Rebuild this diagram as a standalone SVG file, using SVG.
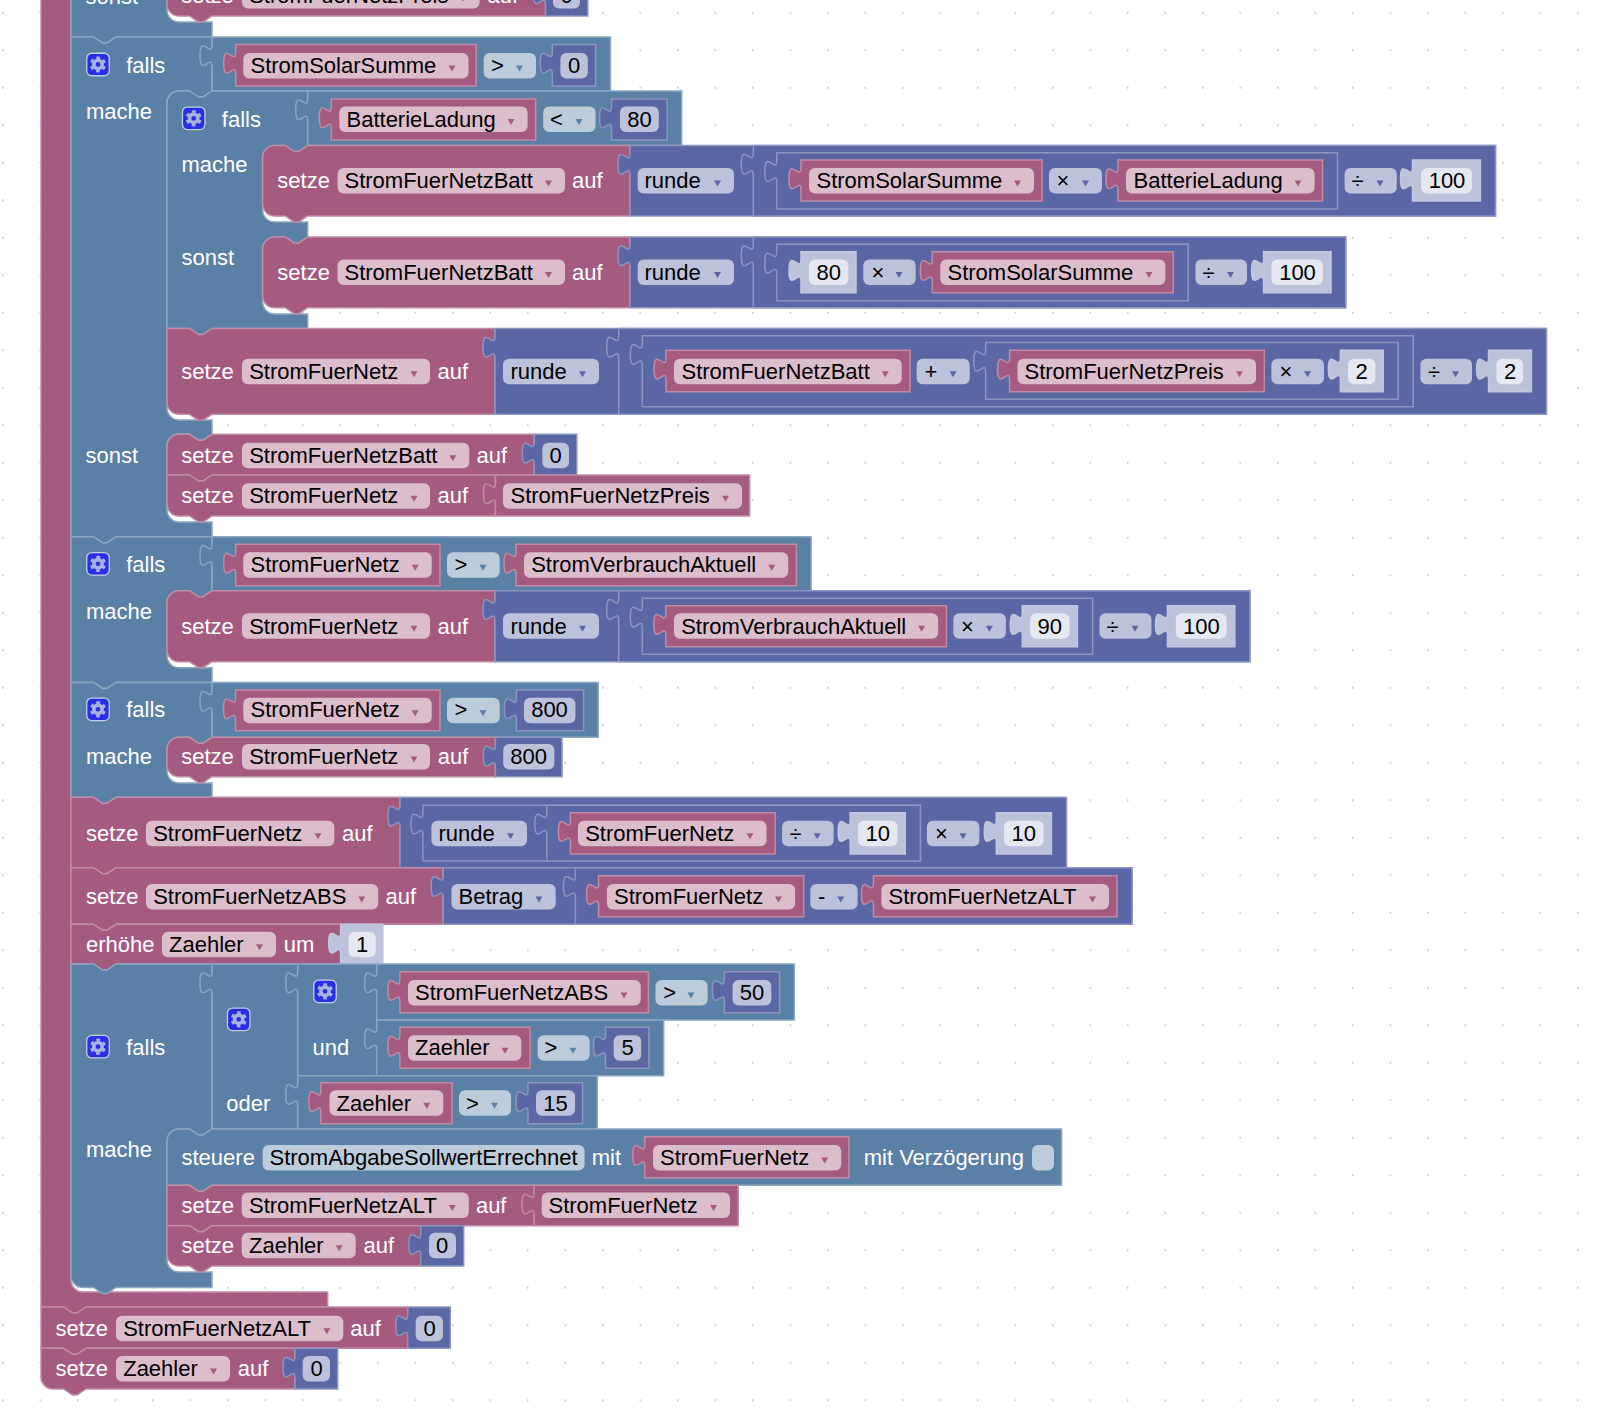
<svg xmlns="http://www.w3.org/2000/svg" width="1612" height="1420" viewBox="0 0 1612 1420">
<style>
text{font:22px "Liberation Sans",Arial,sans-serif;fill:#000;transform:translateX(-.5px)}
.w{fill:#fff}.c{text-anchor:middle;transform:none}
path{stroke-width:1.5;stroke-linejoin:miter}
.p{fill:#A55B80;stroke:#C08CA6}.l{fill:#5B80A5;stroke:#8CA6C0}.m{fill:#5B67A5;stroke:#8C95C0}.s{fill:#BDC2DB;stroke:#C4C8DF}
rect.f{height:25.5px;rx:6px;ry:6px}
.fp{fill:#DBBDCC}.fl{fill:#BDCCDB}.fm{fill:#BDC2DB}.fs{fill:#E5E7F1}
.ap{fill:#A55B80}.al{fill:#5B80A5}.am{fill:#5B67A5}
</style>
<defs>
<pattern id="grid" width="37.5" height="37.5" patternUnits="userSpaceOnUse"><rect x="2" y="12" width="1.5" height="1.5" fill="#bbb"/></pattern>
<path id="a" d="M-3.5,.5H3.5L0,6.5z" style="stroke:none"/>
<g id="gear"><rect x=".75" y=".75" width="22.5" height="22.5" rx="5" fill="#2A2FE6" stroke="#C3CFE2" stroke-width="1.3"/><circle cx="12" cy="12" r="4.2" fill="none" stroke="#A8B4E0" stroke-width="3.6"/><circle cx="12" cy="12" r="6.8" fill="none" stroke="#A8B4E0" stroke-width="2.6" stroke-dasharray="3.6 3.52" transform="rotate(15 12 12)"/></g>
</defs>
<rect width="1612" height="1420" fill="#fff"/>
<rect width="1612" height="1420" fill="url(#grid)"/>

<g id="loop"><path class="p" d="M41-40H71V1280a12,12 0 0 0 12,12H327.7V1307H86l-9,6-4.5,0-9-6H41z"/></g>

<g id="falls0">
<path class="l" d="M71-40H167V10a12,12 0 0 0 12,12H212V37H116l-9,6-4.5,0-9-6H71z"/>
<text class="w" x="86" y="3.5">sonst</text>
</g>
<g id="setze0">
<path class="p" d="M167-40H545.5V16H212l-9,6-4.5,0-9-6H179a12,12 0 0 1-12-12z"/>
<text class="w" x="181.7" y="3">setze</text>
<rect class="f fp" x="242" y="-17" width="237.6"/><text x="249.7" y="3">StromFuerNetzPreis</text><use href="#a" class="ap" x="463" y="-5"/>
<text class="w" x="488" y="3">auf</text>
<path class="m" d="M545.5-25H587.8V16H545.5V5c0-15-12,12-12-11.25s12,3.75 12-11.25z"/>
<rect class="f fm" x="553" y="-17" width="27"/><text class="c" x="566.5" y="3">0</text>
</g>

<g id="falls1">
<path class="l" d="M71,37H93.5l9,6 4.5,0 9-6H212V91l-9,6-4.5,0-9-6H179a12,12 0 0 0-12,12V408a12,12 0 0 0 12,12H212V434l-9,6-4.5,0-9-6H179a12,12 0 0 0-12,12V510a12,12 0 0 0 12,12H212V536.7H116l-9,6-4.5,0-9-6H71z"/>
<use href="#gear" x="86" y="52.5"/>
<text class="w" x="126.7" y="73">falls</text><text class="w" x="86.4" y="119">mache</text><text class="w" x="86" y="462.7">sonst</text>
</g>
<g id="cmp1">
<path class="l" d="M212,37H610.5V91H212V67c0-15-12,12-12-11.25s12,3.75 12-11.25z"/>
<path class="p" d="M235.7,44.5H476.2V86H235.7V74.5c0-15-12,12-12-11.25s12,3.75 12-11.25z"/>
<rect class="f fp" x="243.3" y="53" width="225.2"/><text x="251" y="73">StromSolarSumme</text><use href="#a" class="ap" x="452" y="65"/>
<rect class="f fl" x="483.7" y="53" width="52.3"/><text x="491.5" y="73">&gt;</text><use href="#a" class="al" x="519.5" y="65"/>
<path class="m" d="M552.3,44.5H595.6V86H552.3V74.5c0-15-12,12-12-11.25s12,3.75 12-11.25z"/>
<rect class="f fm" x="560.4" y="53" width="27.4"/><text class="c" x="574" y="73">0</text>
</g>

<g id="falls2">
<path class="l" d="M167,103a12,12 0 0 1 12-12H189.5l9,6 4.5,0 9-6H307.7V145.5l-9,6-4.5,0-9-6H274.6a12,12 0 0 0-12,12V210a12,12 0 0 0 12,12H307.7V237l-9,6-4.5,0-9-6H274.6a12,12 0 0 0-12,12V302a12,12 0 0 0 12,12H307.7V328.5H212l-9,6-4.5,0-9-6H167z"/>
<use href="#gear" x="181.7" y="106.3"/>
<text class="w" x="222.3" y="126.5">falls</text><text class="w" x="182" y="171.7">mache</text><text class="w" x="182" y="264.5">sonst</text>
</g>
<g id="cmp2">
<path class="l" d="M307.7,91H681.7V145.5H307.7V121c0-15-12,12-12-11.25s12,3.75 12-11.25z"/>
<path class="p" d="M331.3,99H535.7V140H331.3V129c0-15-12,12-12-11.25s12,3.75 12-11.25z"/>
<rect class="f fp" x="339.3" y="106.5" width="188.3"/><text x="347" y="126.5">BatterieLadung</text><use href="#a" class="ap" x="511" y="118.5"/>
<rect class="f fl" x="543.2" y="106.5" width="52.4"/><text x="550.6" y="126.5">&lt;</text><use href="#a" class="al" x="579" y="118.5"/>
<path class="m" d="M611.5,99H667.2V140H611.5V129c0-15-12,12-12-11.25s12,3.75 12-11.25z"/>
<rect class="f fm" x="620" y="106.5" width="38.8"/><text class="c" x="639.5" y="126.5">80</text>
</g>

<g id="setze1">
<path class="p" d="M262.6,157.5a12,12 0 0 1 12-12H285.2l9,6 4.5,0 9-6H630V216H307.7l-9,6-4.5,0-9-6H274.6a12,12 0 0 1-12-12z"/>
<text class="w" x="277.8" y="188">setze</text>
<rect class="f fp" x="337.6" y="168" width="227.4"/><text x="345" y="188">StromFuerNetzBatt</text><use href="#a" class="ap" x="548.5" y="180"/>
<text class="w" x="572.6" y="188">auf</text>
<path class="m" d="M630,145.5H1495.5V216H630V175.5c0-15-12,12-12-11.25s12,3.75 12-11.25z"/>
<rect class="f fm" x="637.7" y="168" width="96.3"/><text x="645" y="188">runde</text><use href="#a" class="am" x="717.5" y="180"/>
<path class="m" d="M753.3,145.5H1495.5V216H753.3V175.5c0-15-12,12-12-11.25s12,3.75 12-11.25z"/>
<path class="m" d="M776.7,152.7H1337.5V209H776.7V182.7c0-15-12,12-12-11.25s12,3.75 12-11.25z"/>
<path class="p" d="M801,160H1042V201H801V190c0-15-12,12-12-11.25s12,3.75 12-11.25z"/>
<rect class="f fp" x="809" y="168" width="225"/><text x="817" y="188">StromSolarSumme</text><use href="#a" class="ap" x="1017.5" y="180"/>
<rect class="f fm" x="1049" y="168" width="53"/><text x="1057" y="188">×</text><use href="#a" class="am" x="1085.5" y="180"/>
<path class="p" d="M1118,160H1322.5V201H1118V190c0-15-12,12-12-11.25s12,3.75 12-11.25z"/>
<rect class="f fp" x="1126" y="168" width="188.6"/><text x="1134" y="188">BatterieLadung</text><use href="#a" class="ap" x="1298" y="180"/>
<rect class="f fm" x="1344.6" y="168" width="52.2"/><text x="1352" y="188">÷</text><use href="#a" class="am" x="1380" y="180"/>
<path class="s" d="M1412.5,160H1480.4V201H1412.5V190c0-15-12,12-12-11.25s12,3.75 12-11.25z"/>
<rect class="f fs" x="1421" y="168" width="51"/><text class="c" x="1447" y="188">100</text>
</g>

<g id="setze2">
<path class="p" d="M262.6,249a12,12 0 0 1 12-12H285.2l9,6 4.5,0 9-6H630V307.7H307.7l-9,6-4.5,0-9-6H274.6a12,12 0 0 1-12-12z"/>
<text class="w" x="277.8" y="279.5">setze</text>
<rect class="f fp" x="337.6" y="259.5" width="227.4"/><text x="345" y="279.5">StromFuerNetzBatt</text><use href="#a" class="ap" x="548.5" y="271.5"/>
<text class="w" x="572.6" y="279.5">auf</text>
<path class="m" d="M630,237H1345.7V307.7H630V267c0-15-12,12-12-11.25s12,3.75 12-11.25z"/>
<rect class="f fm" x="637.7" y="259.5" width="96.3"/><text x="645" y="279.5">runde</text><use href="#a" class="am" x="717.5" y="271.5"/>
<path class="m" d="M753.3,237H1345.7V307.7H753.3V267c0-15-12,12-12-11.25s12,3.75 12-11.25z"/>
<path class="m" d="M776.7,244.3H1188.2V300.7H776.7V274.3c0-15-12,12-12-11.25s12,3.75 12-11.25z"/>
<path class="s" d="M801,251.7H856V292.7H801V281.7c0-15-12,12-12-11.25s12,3.75 12-11.25z"/>
<rect class="f fs" x="809" y="259.5" width="39.3"/><text class="c" x="828.7" y="279.5">80</text>
<rect class="f fm" x="863.3" y="259.5" width="52.4"/><text x="872" y="279.5">×</text><use href="#a" class="am" x="899" y="271.5"/>
<path class="p" d="M932.3,251.7H1173.2V292.7H932.3V281.7c0-15-12,12-12-11.25s12,3.75 12-11.25z"/>
<rect class="f fp" x="940.3" y="259.5" width="225.1"/><text x="948" y="279.5">StromSolarSumme</text><use href="#a" class="ap" x="1149" y="271.5"/>
<rect class="f fm" x="1195.4" y="259.5" width="51.6"/><text x="1203" y="279.5">÷</text><use href="#a" class="am" x="1230.5" y="271.5"/>
<path class="s" d="M1263.6,251.7H1331V292.7H1263.6V281.7c0-15-12,12-12-11.25s12,3.75 12-11.25z"/>
<rect class="f fs" x="1271.4" y="259.5" width="51.5"/><text class="c" x="1297.5" y="279.5">100</text>
</g>

<g id="setze3">
<path class="p" d="M167,328.5H189.5l9,6 4.5,0 9-6H495V414.3H212l-9,6-4.5,0-9-6H179a12,12 0 0 1-12-12z"/>
<text class="w" x="181.7" y="378.5">setze</text>
<rect class="f fp" x="242" y="358.7" width="188"/><text x="249.7" y="378.5">StromFuerNetz</text><use href="#a" class="ap" x="414" y="370.7"/>
<text class="w" x="438" y="378.5">auf</text>
<path class="m" d="M495,328.5H1546.4V414.3H495V358.5c0-15-12,12-12-11.25s12,3.75 12-11.25z"/>
<rect class="f fm" x="503" y="358.7" width="96"/><text x="511" y="378.5">runde</text><use href="#a" class="am" x="582.5" y="370.7"/>
<path class="m" d="M618.7,328.5H1546.4V414.3H618.7V358.5c0-15-12,12-12-11.25s12,3.75 12-11.25z"/>
<path class="m" d="M642.3,335.7H1413.2V406.7H642.3V365.7c0-15-12,12-12-11.25s12,3.75 12-11.25z"/>
<path class="p" d="M666,350.3H910V391.7H666V380.3c0-15-12,12-12-11.25s12,3.75 12-11.25z"/>
<rect class="f fp" x="674" y="358.7" width="227.7"/><text x="682" y="378.5">StromFuerNetzBatt</text><use href="#a" class="ap" x="885.2" y="370.7"/>
<rect class="f fm" x="916.7" y="358.7" width="53"/><text x="925" y="378.5">+</text><use href="#a" class="am" x="953" y="370.7"/>
<path class="m" d="M985.7,342.5H1398.2V399.3H985.7V372.5c0-15-12,12-12-11.25s12,3.75 12-11.25z"/>
<path class="p" d="M1009.6,350.3H1264.3V391.7H1009.6V380.3c0-15-12,12-12-11.25s12,3.75 12-11.25z"/>
<rect class="f fp" x="1017.5" y="358.7" width="238.5"/><text x="1025" y="378.5">StromFuerNetzPreis</text><use href="#a" class="ap" x="1239.5" y="370.7"/>
<rect class="f fm" x="1271.4" y="358.7" width="52.6"/><text x="1280" y="378.5">×</text><use href="#a" class="am" x="1307.5" y="370.7"/>
<path class="s" d="M1340.4,350.3H1383.2V391.7H1340.4V380.3c0-15-12,12-12-11.25s12,3.75 12-11.25z"/>
<rect class="f fs" x="1348" y="358.7" width="27.4"/><text class="c" x="1361.7" y="378.5">2</text>
<rect class="f fm" x="1420.4" y="358.7" width="51.6"/><text x="1428.6" y="378.5">÷</text><use href="#a" class="am" x="1455.5" y="370.7"/>
<path class="s" d="M1488.6,350.3H1531.4V391.7H1488.6V380.3c0-15-12,12-12-11.25s12,3.75 12-11.25z"/>
<rect class="f fs" x="1496.4" y="358.7" width="26.8"/><text class="c" x="1510" y="378.5">2</text>
</g>

<g id="setze4">
<path class="p" d="M167,446.3a12,12 0 0 1 12-12H189.5l9,6 4.5,0 9-6H534.3V475H212l-9,6-4.5,0-9-6H167z"/>
<text class="w" x="181.7" y="462.7">setze</text>
<rect class="f fp" x="242" y="442.7" width="227.3"/><text x="249.7" y="462.7">StromFuerNetzBatt</text><use href="#a" class="ap" x="452.8" y="454.7"/>
<text class="w" x="477" y="462.7">auf</text>
<path class="m" d="M534.3,434.3H576.8V475H534.3V464.3c0-15-12,12-12-11.25s12,3.75 12-11.25z"/>
<rect class="f fm" x="542.3" y="442.7" width="26.7"/><text class="c" x="555.7" y="462.7">0</text>
</g>
<g id="setze5">
<path class="p" d="M167,475H189.5l9,6 4.5,0 9-6H495.5V516H212l-9,6-4.5,0-9-6H179a12,12 0 0 1-12-12z"/>
<text class="w" x="181.7" y="503.3">setze</text>
<rect class="f fp" x="242" y="483.3" width="188"/><text x="249.7" y="503.3">StromFuerNetz</text><use href="#a" class="ap" x="414" y="495.3"/>
<text class="w" x="438" y="503.3">auf</text>
<path class="p" d="M495.5,475H749.6V516H495.5V505c0-15-12,12-12-11.25s12,3.75 12-11.25z"/>
<rect class="f fp" x="503" y="483.3" width="239"/><text x="511" y="503.3">StromFuerNetzPreis</text><use href="#a" class="ap" x="725.5" y="495.3"/>
</g>

<g id="falls3">
<path class="l" d="M71,536.7H93.5l9,6 4.5,0 9-6H212V590.7l-9,6-4.5,0-9-6H179a12,12 0 0 0-12,12V655.7a12,12 0 0 0 12,12H212V682.5H116l-9,6-4.5,0-9-6H71z"/>
<use href="#gear" x="86" y="551.8"/>
<text class="w" x="126.7" y="572.3">falls</text><text class="w" x="86.4" y="618.7">mache</text>
</g>
<g id="cmp3">
<path class="l" d="M212,536.7H811.1V590.7H212V566.7c0-15-12,12-12-11.25s12,3.75 12-11.25z"/>
<path class="p" d="M235.7,544.3H440V585.7H235.7V574.3c0-15-12,12-12-11.25s12,3.75 12-11.25z"/>
<rect class="f fp" x="243.3" y="552.3" width="188.4"/><text x="251" y="572.3">StromFuerNetz</text><use href="#a" class="ap" x="415.2" y="564.3"/>
<rect class="f fl" x="447" y="552.3" width="52.7"/><text x="455" y="572.3">&gt;</text><use href="#a" class="al" x="483" y="564.3"/>
<path class="p" d="M516,544.3H796.4V585.7H516V574.3c0-15-12,12-12-11.25s12,3.75 12-11.25z"/>
<rect class="f fp" x="524" y="552.3" width="264.2"/><text x="531.7" y="572.3">StromVerbrauchAktuell</text><use href="#a" class="ap" x="771.7" y="564.3"/>
</g>
<g id="setze6">
<path class="p" d="M167,602.7a12,12 0 0 1 12-12H189.5l9,6 4.5,0 9-6H495V661.7H212l-9,6-4.5,0-9-6H179a12,12 0 0 1-12-12z"/>
<text class="w" x="181.7" y="633.5">setze</text>
<rect class="f fp" x="242" y="613.3" width="188"/><text x="249.7" y="633.5">StromFuerNetz</text><use href="#a" class="ap" x="414" y="625.3"/>
<text class="w" x="438" y="633.5">auf</text>
<path class="m" d="M495,590.7H1249.9V661.7H495V620.7c0-15-12,12-12-11.25s12,3.75 12-11.25z"/>
<rect class="f fm" x="503" y="613.3" width="96"/><text x="511" y="633.5">runde</text><use href="#a" class="am" x="582.5" y="625.3"/>
<path class="m" d="M618.7,590.7H1249.9V661.7H618.7V620.7c0-15-12,12-12-11.25s12,3.75 12-11.25z"/>
<path class="m" d="M642.3,598.3H1092.7V654.3H642.3V628.3c0-15-12,12-12-11.25s12,3.75 12-11.25z"/>
<path class="p" d="M665.8,605.7H946.4V646.7H665.8V635.7c0-15-12,12-12-11.25s12,3.75 12-11.25z"/>
<rect class="f fp" x="674" y="613.3" width="264.1"/><text x="681.7" y="633.5">StromVerbrauchAktuell</text><use href="#a" class="ap" x="921.6" y="625.3"/>
<rect class="f fm" x="953.3" y="613.3" width="52.6"/><text x="961.6" y="633.5">×</text><use href="#a" class="am" x="989.4" y="625.3"/>
<path class="s" d="M1022.3,605.7H1077.4V646.7H1022.3V635.7c0-15-12,12-12-11.25s12,3.75 12-11.25z"/>
<rect class="f fs" x="1030.1" y="613.3" width="39.5"/><text class="c" x="1049.8" y="633.5">90</text>
<rect class="f fm" x="1099.5" y="613.3" width="52"/><text x="1107" y="633.5">÷</text><use href="#a" class="am" x="1135" y="625.3"/>
<path class="s" d="M1167.5,605.7H1234.8V646.7H1167.5V635.7c0-15-12,12-12-11.25s12,3.75 12-11.25z"/>
<rect class="f fs" x="1175.8" y="613.3" width="50.8"/><text class="c" x="1201.4" y="633.5">100</text>
</g>

<g id="falls4">
<path class="l" d="M71,682.5H93.5l9,6 4.5,0 9-6H212V737.3l-9,6-4.5,0-9-6H179a12,12 0 0 0-12,12V771a12,12 0 0 0 12,12H212V797.3H116l-9,6-4.5,0-9-6H71z"/>
<use href="#gear" x="86" y="697.3"/>
<text class="w" x="126.7" y="717.3">falls</text><text class="w" x="86.4" y="763.5">mache</text>
</g>
<g id="cmp4">
<path class="l" d="M212,682.5H598.2V737.3H212V712.5c0-15-12,12-12-11.25s12,3.75 12-11.25z"/>
<path class="p" d="M235.5,690H440V730.7H235.5V720c0-15-12,12-12-11.25s12,3.75 12-11.25z"/>
<rect class="f fp" x="243.3" y="697.7" width="188.4"/><text x="251" y="717.3">StromFuerNetz</text><use href="#a" class="ap" x="415.2" y="709.7"/>
<rect class="f fl" x="447" y="697.7" width="52.7"/><text x="455" y="717.3">&gt;</text><use href="#a" class="al" x="483" y="709.7"/>
<path class="m" d="M516.4,690H583.6V730.7H516.4V720c0-15-12,12-12-11.25s12,3.75 12-11.25z"/>
<rect class="f fm" x="524" y="697.7" width="51.4"/><text class="c" x="549.5" y="717.3">800</text>
</g>
<g id="setze7">
<path class="p" d="M167,749.3a12,12 0 0 1 12-12H189.5l9,6 4.5,0 9-6H495.4V776.7H212l-9,6-4.5,0-9-6H179a12,12 0 0 1-12-12z"/>
<text class="w" x="181.7" y="763.5">setze</text>
<rect class="f fp" x="242" y="744" width="188"/><text x="249.7" y="763.5">StromFuerNetz</text><use href="#a" class="ap" x="414" y="756"/>
<text class="w" x="438.2" y="763.5">auf</text>
<path class="m" d="M495.4,737.3H562V776.7H495.4V767.3c0-15-12,12-12-11.25s12,3.75 12-11.25z"/>
<rect class="f fm" x="503.2" y="744" width="51.1"/><text class="c" x="528.7" y="763.5">800</text>
</g>

<g id="setze8">
<path class="p" d="M71,797.3H93.5l9,6 4.5,0 9-6H400V867.7H116l-9,6-4.5,0-9-6H71z"/>
<text class="w" x="86.4" y="840.7">setze</text>
<rect class="f fp" x="146" y="820.7" width="188.3"/><text x="153.7" y="840.7">StromFuerNetz</text><use href="#a" class="ap" x="318" y="832.7"/>
<text class="w" x="342.5" y="840.7">auf</text>
<path class="m" d="M400,797.3H1066.5V867.7H400V827.3c0-15-12,12-12-11.25s12,3.75 12-11.25z"/>
<path class="m" d="M422.9,805.3H920.4V861H422.9V835.3c0-15-12,12-12-11.25s12,3.75 12-11.25z"/>
<rect class="f fm" x="431.4" y="820.7" width="95.6"/><text x="439" y="840.7">runde</text><use href="#a" class="am" x="510.5" y="832.7"/>
<path class="m" d="M546.8,805.3H920.4V861H546.8V835.3c0-15-12,12-12-11.25s12,3.75 12-11.25z"/>
<path class="p" d="M570.4,812.7H775.2V854H570.4V842.7c0-15-12,12-12-11.25s12,3.75 12-11.25z"/>
<rect class="f fp" x="578" y="820.7" width="188.5"/><text x="585.7" y="840.7">StromFuerNetz</text><use href="#a" class="ap" x="750" y="832.7"/>
<rect class="f fm" x="782.1" y="820.7" width="51.5"/><text x="789.9" y="840.7">÷</text><use href="#a" class="am" x="817.2" y="832.7"/>
<path class="s" d="M850.2,812.7H905.2V854H850.2V842.7c0-15-12,12-12-11.25s12,3.75 12-11.25z"/>
<rect class="f fs" x="858" y="820.7" width="39.5"/><text class="c" x="877.7" y="840.7">10</text>
<rect class="f fm" x="926.9" y="820.7" width="52.5"/><text x="935.6" y="840.7">×</text><use href="#a" class="am" x="963" y="832.7"/>
<path class="s" d="M996.3,812.7H1051.4V854H996.3V842.7c0-15-12,12-12-11.25s12,3.75 12-11.25z"/>
<rect class="f fs" x="1004.1" y="820.7" width="39.5"/><text class="c" x="1023.8" y="840.7">10</text>
</g>

<g id="setze9">
<path class="p" d="M71,867.7H93.5l9,6 4.5,0 9-6H443.2V924.3H116l-9,6-4.5,0-9-6H71z"/>
<text class="w" x="86.4" y="904">setze</text>
<rect class="f fp" x="146" y="884" width="232.2"/><text x="153.7" y="904">StromFuerNetzABS</text><use href="#a" class="ap" x="361.7" y="896"/>
<text class="w" x="386" y="904">auf</text>
<path class="m" d="M443.2,867.7H1132.1V924.3H443.2V897.7c0-15-12,12-12-11.25s12,3.75 12-11.25z"/>
<rect class="f fm" x="451.4" y="884" width="104.3"/><text x="459" y="904">Betrag</text><use href="#a" class="am" x="539" y="896"/>
<path class="m" d="M575.4,867.7H1132.1V924.3H575.4V897.7c0-15-12,12-12-11.25s12,3.75 12-11.25z"/>
<path class="p" d="M598.6,875.7H803.7V916.7H598.6V905.7c0-15-12,12-12-11.25s12,3.75 12-11.25z"/>
<rect class="f fp" x="606.9" y="884" width="188.2"/><text x="614.5" y="904">StromFuerNetz</text><use href="#a" class="ap" x="778.5" y="896"/>
<rect class="f fm" x="810.3" y="884" width="47.3"/><text x="818.4" y="904">-</text><use href="#a" class="am" x="840.8" y="896"/>
<path class="p" d="M873.5,875.7H1116.9V916.7H873.5V905.7c0-15-12,12-12-11.25s12,3.75 12-11.25z"/>
<rect class="f fp" x="881.4" y="884" width="227.6"/><text x="889" y="904">StromFuerNetzALT</text><use href="#a" class="ap" x="1092.5" y="896"/>
</g>

<g id="erhoehe">
<path class="p" d="M71,924.3H93.5l9,6 4.5,0 9-6H340.7V964H116l-9,6-4.5,0-9-6H71z"/>
<text class="w" x="86.4" y="951.7">erhöhe</text>
<rect class="f fp" x="162" y="931.7" width="114"/><text x="169.5" y="951.7">Zaehler</text><use href="#a" class="ap" x="259.5" y="943.7"/>
<text class="w" x="284.3" y="951.7">um</text>
<path class="s" d="M340.7,924.3H382.9V964H340.7V954.3c0-15-12,12-12-11.25s12,3.75 12-11.25z"/>
<rect class="f fs" x="348.6" y="931.7" width="27.1"/><text class="c" x="362" y="951.7">1</text>
</g>

<g id="falls5">
<path class="l" d="M71,964H93.5l9,6 4.5,0 9-6H212V1129l-9,6-4.5,0-9-6H179a12,12 0 0 0-12,12V1260a12,12 0 0 0 12,12H212V1287.5H116l-9,6-4.5,0-9-6H83a12,12 0 0 1-12-12z"/>
<use href="#gear" x="86" y="1034.7"/>
<text class="w" x="126.7" y="1055">falls</text><text class="w" x="86.4" y="1156.7">mache</text>
</g>
<g id="oder">
<path class="l" d="M212,964H297.7V1129H212V994c0-15-12,12-12-11.25s12,3.75 12-11.25z"/>
<use href="#gear" x="226.7" y="1007.3"/>
<text class="w" x="226.7" y="1110.5">oder</text>
</g>
<g id="und">
<path class="l" d="M297.7,964H376.7V1075.7H297.7V994c0-15-12,12-12-11.25s12,3.75 12-11.25z"/>
<use href="#gear" x="313" y="979.3"/>
<text class="w" x="313" y="1055">und</text>
</g>
<g id="cmp5">
<path class="l" d="M376.7,964H794.3V1020H376.7V994c0-15-12,12-12-11.25s12,3.75 12-11.25z"/>
<path class="p" d="M399.9,971.7H648.4V1012.7H399.9V1001.7c0-15-12,12-12-11.25s12,3.75 12-11.25z"/>
<rect class="f fp" x="408" y="980" width="232.7"/><text x="415.5" y="1000">StromFuerNetzABS</text><use href="#a" class="ap" x="624" y="992"/>
<rect class="f fl" x="655.5" y="980" width="52.1"/><text x="663.7" y="1000">&gt;</text><use href="#a" class="al" x="691" y="992"/>
<path class="m" d="M724.4,971.7H779.5V1012.7H724.4V1001.7c0-15-12,12-12-11.25s12,3.75 12-11.25z"/>
<rect class="f fm" x="732.6" y="980" width="38.7"/><text class="c" x="752" y="1000">50</text>
</g>
<g id="cmp6">
<path class="l" d="M376.7,1020H663.7V1075.7H376.7V1050c0-15-12,12-12-11.25s12,3.75 12-11.25z"/>
<path class="p" d="M399.9,1027.3H530V1068.3H399.9V1057.3c0-15-12,12-12-11.25s12,3.75 12-11.25z"/>
<rect class="f fp" x="408" y="1035.3" width="113.3"/><text x="415.5" y="1055">Zaehler</text><use href="#a" class="ap" x="505" y="1047.3"/>
<rect class="f fl" x="537.7" y="1035.3" width="52"/><text x="545" y="1055">&gt;</text><use href="#a" class="al" x="573" y="1047.3"/>
<path class="m" d="M605.5,1027.3H648.9V1068.3H605.5V1057.3c0-15-12,12-12-11.25s12,3.75 12-11.25z"/>
<rect class="f fm" x="613.7" y="1035.3" width="27.5"/><text class="c" x="627.5" y="1055">5</text>
</g>
<g id="cmp7">
<path class="l" d="M297.7,1075.7H597.3V1129H297.7V1105.7c0-15-12,12-12-11.25s12,3.75 12-11.25z"/>
<path class="p" d="M320.8,1082.7H452V1123.7H320.8V1112.7c0-15-12,12-12-11.25s12,3.75 12-11.25z"/>
<rect class="f fp" x="329.5" y="1090.3" width="113.8"/><text x="337" y="1110.5">Zaehler</text><use href="#a" class="ap" x="426.8" y="1102.3"/>
<rect class="f fl" x="459" y="1090.3" width="52"/><text x="466.5" y="1110.5">&gt;</text><use href="#a" class="al" x="494.5" y="1102.3"/>
<path class="m" d="M528,1082.7H582.6V1123.7H528V1112.7c0-15-12,12-12-11.25s12,3.75 12-11.25z"/>
<rect class="f fm" x="536" y="1090.3" width="39"/><text class="c" x="555.5" y="1110.5">15</text>
</g>

<g id="steuere">
<path class="l" d="M167,1141a12,12 0 0 1 12-12H189.5l9,6 4.5,0 9-6H1061.6V1185.3H212l-9,6-4.5,0-9-6H167z"/>
<text class="w" x="182" y="1165">steuere</text>
<rect class="f fl" x="262.7" y="1145" width="321.9"/><text x="270" y="1165">StromAbgabeSollwertErrechnet</text>
<text class="w" x="592.2" y="1165">mit</text>
<path class="p" d="M644.8,1136.7H848.9V1177.7H644.8V1166.7c0-15-12,12-12-11.25s12,3.75 12-11.25z"/>
<rect class="f fp" x="653" y="1145" width="188.2"/><text x="660.5" y="1165">StromFuerNetz</text><use href="#a" class="ap" x="824.7" y="1157"/>
<text class="w" x="864.2" y="1165">mit Verzögerung</text>
<rect class="f fl" x="1032" y="1145" width="22"/>
</g>
<g id="setze10">
<path class="p" d="M167,1185.3H189.5l9,6 4.5,0 9-6H534V1225.7H212l-9,6-4.5,0-9-6H167z"/>
<text class="w" x="182" y="1212.5">setze</text>
<rect class="f fp" x="241.7" y="1192.5" width="227.1"/><text x="249.5" y="1212.5">StromFuerNetzALT</text><use href="#a" class="ap" x="452.3" y="1204.5"/>
<text class="w" x="476.4" y="1212.5">auf</text>
<path class="p" d="M534,1185.3H738.2V1225.7H534V1215.3c0-15-12,12-12-11.25s12,3.75 12-11.25z"/>
<rect class="f fp" x="541.7" y="1192.5" width="188.3"/><text x="549" y="1212.5">StromFuerNetz</text><use href="#a" class="ap" x="713.5" y="1204.5"/>
</g>
<g id="setze11">
<path class="p" d="M167,1225.7H189.5l9,6 4.5,0 9-6H420.8V1266H212l-9,6-4.5,0-9-6H179a12,12 0 0 1-12-12z"/>
<text class="w" x="182" y="1252.7">setze</text>
<rect class="f fp" x="241.7" y="1232.7" width="114"/><text x="249.5" y="1252.7">Zaehler</text><use href="#a" class="ap" x="339.2" y="1244.7"/>
<text class="w" x="364" y="1252.7">auf</text>
<path class="m" d="M420.8,1225.7H463.7V1266H420.8V1255.7c0-15-12,12-12-11.25s12,3.75 12-11.25z"/>
<rect class="f fm" x="429" y="1232.7" width="27"/><text class="c" x="442" y="1252.7">0</text>
</g>

<g id="setze12">
<path class="p" d="M41,1307H63.5l9,6 4.5,0 9-6H407.7V1348.3H86l-9,6-4.5,0-9-6H41z"/>
<text class="w" x="56" y="1335.7">setze</text>
<rect class="f fp" x="116" y="1315.7" width="227.3"/><text x="123.7" y="1335.7">StromFuerNetzALT</text><use href="#a" class="ap" x="326.8" y="1327.7"/>
<text class="w" x="350.7" y="1335.7">auf</text>
<path class="m" d="M407.7,1307H450.3V1348.3H407.7V1337c0-15-12,12-12-11.25s12,3.75 12-11.25z"/>
<rect class="f fm" x="415.7" y="1315.7" width="27.3"/><text class="c" x="429.5" y="1335.7">0</text>
</g>
<g id="setze13">
<path class="p" d="M41,1348.3H63.5l9,6 4.5,0 9-6H295V1389H86l-9,6-4.5,0-9-6H53a12,12 0 0 1-12-12z"/>
<text class="w" x="56" y="1376">setze</text>
<rect class="f fp" x="116" y="1356" width="114"/><text x="123.7" y="1376">Zaehler</text><use href="#a" class="ap" x="213.5" y="1368"/>
<text class="w" x="238.3" y="1376">auf</text>
<path class="m" d="M295,1348.3H337.7V1389H295V1378.3c0-15-12,12-12-11.25s12,3.75 12-11.25z"/>
<rect class="f fm" x="302.7" y="1356" width="27.3"/><text class="c" x="316.5" y="1376">0</text>
</g>
</svg>
